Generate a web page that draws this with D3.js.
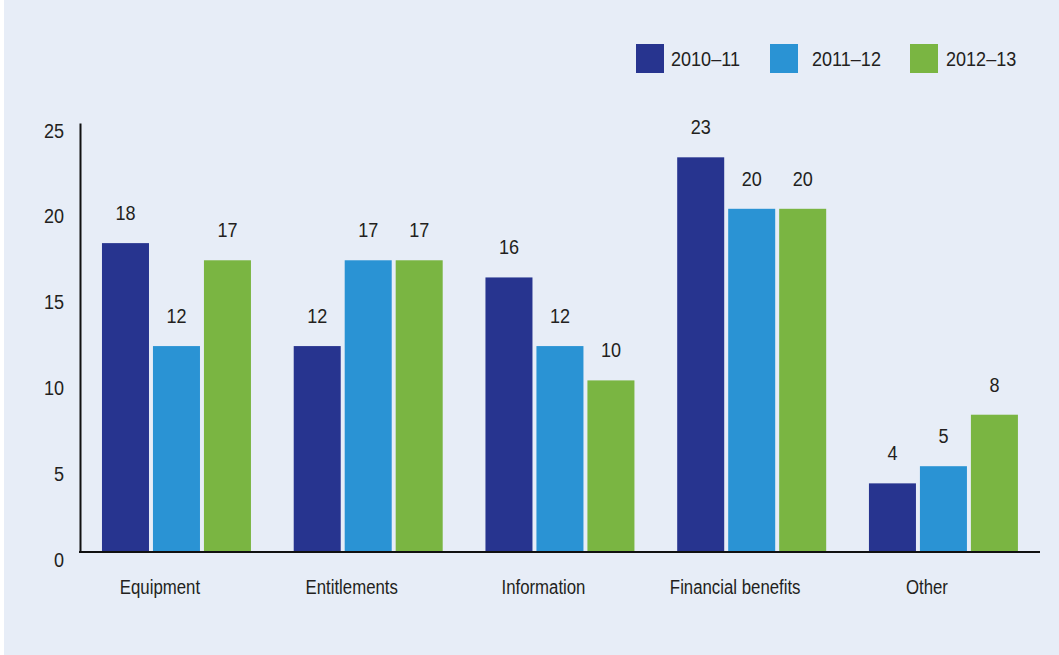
<!DOCTYPE html>
<html>
<head>
<meta charset="utf-8">
<script src="https://cdn.jsdelivr.net/npm/d3@7"></script>
<style>
  html, body { margin: 0; padding: 0; background: #ffffff; }
  svg { display: block; }
  text { font-family: "Liberation Sans Narrow", "Arial Narrow", "Liberation Sans", Arial, sans-serif; fill: #231f20; }
</style>
</head>
<body>
<script>
// Complaints by category, three financial years
const categories = ["Equipment", "Entitlements", "Information", "Financial benefits", "Other"];
const seriesNames = ["2010–11", "2011–12", "2012–13"];
const values2010 = [18, 12, 16, 23, 4];
const values2011 = [12, 17, 12, 20, 5];
const values2012 = [17, 17, 10, 20, 8];
const yTicks = [0, 5, 10, 15, 20, 25];
const colors = ["#27348f", "#2a93d4", "#7ab542"];

const W = 1059, H = 655;
const FONT = 21;
const SQ_DIGITS = 0.86;   // horizontal squeeze for a condensed look
const SQ_WORDS = 0.80;

const svg = d3.select("body").append("svg").attr("width", W).attr("height", H);

// panel background
svg.append("rect").attr("x", 4).attr("y", 0).attr("width", W - 4).attr("height", H).attr("fill", "#e7edf7");

const m = { left: 80, right: 19, top: 123, bottom: 103 };
const plotBottom = H - m.bottom;

const series = [values2010, values2011, values2012];

const x0 = d3.scaleBand().domain(categories).range([82.8, 1037.1]).paddingInner(0.223).paddingOuter(0.1);
const x1 = d3.scaleBand().domain(seriesNames).range([0, x0.bandwidth()]).paddingInner(0.078);
const y = d3.scaleLinear().domain([0, 25]).range([plotBottom, m.top]);

// squeeze a text element horizontally around its anchor point
function condense(sel, s) {
  sel.each(function () {
    const t = d3.select(this);
    const x = +t.attr("x") || 0, yy = +t.attr("y") || 0;
    t.attr("x", 0).attr("y", 0).attr("transform", `translate(${x},${yy}) scale(${s},1)`);
  });
}

// bars
const groups = svg.append("g").selectAll("g").data(categories).join("g")
  .attr("transform", d => `translate(${x0(d)},0)`);

const rows = (c, i) => seriesNames.map((s, k) => ({ s, k, v: series[k][i] }));

groups.selectAll("rect").data(rows)
  .join("rect")
  .attr("x", d => x1(d.s))
  .attr("y", d => y(d.v))
  .attr("width", x1.bandwidth())
  .attr("height", d => y(0) - y(d.v))
  .attr("fill", d => colors[d.k]);

// value labels
groups.selectAll("text.val").data(rows)
  .join("text")
  .attr("class", "val")
  .attr("x", d => x1(d.s) + x1.bandwidth() / 2)
  .attr("y", d => y(d.v) - 23)
  .attr("text-anchor", "middle")
  .attr("font-size", FONT)
  .text(d => d.v)
  .call(condense, SQ_DIGITS);

// y axis
const yAxis = d3.axisLeft(y).tickValues(yTicks).tickSize(0).tickPadding(16);
const gy = svg.append("g").attr("transform", `translate(${m.left},0)`).call(yAxis);
gy.select(".domain").attr("stroke", "#111").attr("stroke-width", 2);
gy.selectAll(".tick text")
  .attr("font-size", FONT).attr("font-family", null).style("fill", "#231f20")
  .attr("dy", null).attr("y", 14)
  .call(condense, SQ_DIGITS);

// x axis
const xAxis = d3.axisBottom(x0).tickSize(0);
const gx = svg.append("g").attr("transform", `translate(0,${plotBottom})`).call(xAxis);
gx.select(".domain").attr("d", `M${m.left - 1},0H${W - m.right}`).attr("stroke", "#111").attr("stroke-width", 2);
gx.selectAll(".tick text")
  .attr("font-size", FONT).attr("font-family", null).style("fill", "#231f20")
  .attr("dy", null).attr("y", 42).attr("x", -16.5)
  .call(condense, SQ_WORDS);

// legend
const legendX = [636, 770, 910];
const legendTextDx = [35, 42, 36];
const leg = svg.append("g").selectAll("g").data(seriesNames).join("g")
  .attr("transform", (d, i) => `translate(${legendX[i]},44)`);
leg.append("rect").attr("width", 28).attr("height", 29).attr("fill", (d, i) => colors[i]);
leg.append("text").attr("x", (d, i) => legendTextDx[i]).attr("y", 22)
  .attr("font-size", FONT).text(d => d)
  .call(condense, SQ_DIGITS);
</script>
</body>
</html>
